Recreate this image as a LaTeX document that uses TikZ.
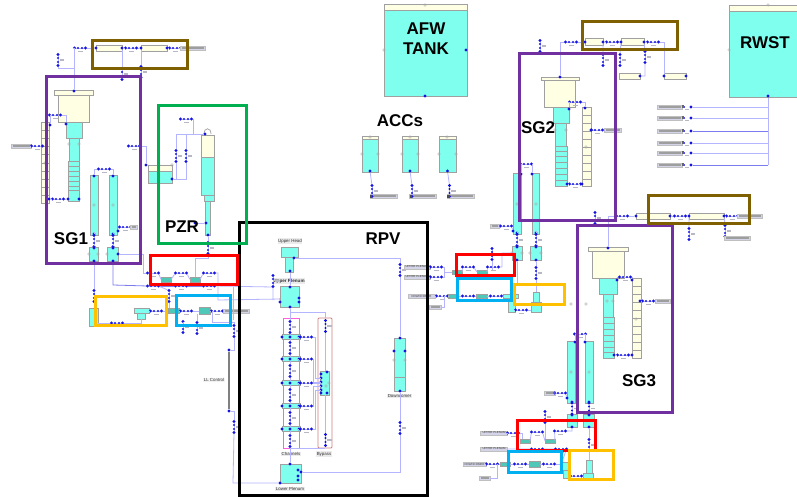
\documentclass[tikz,border=0pt]{standalone}
\usepackage{fontspec}
\setmainfont{Liberation Sans}
\definecolor{aq}{HTML}{7FFFEE}
\definecolor{crm}{HTML}{FFFFE4}
\definecolor{tl}{HTML}{4FC8B8}
\definecolor{edg}{HTML}{A0A0A0}
\definecolor{pp}{HTML}{B4B4FF}
\definecolor{ppd}{HTML}{7C7CF0}
\definecolor{bd}{HTML}{1414E0}
\definecolor{lbl}{HTML}{D4D4E8}
\definecolor{sm}{HTML}{B8B8C4}
\tikzset{
 fw/.style={draw=edg,line width=.7pt,fill=aq,inner sep=0,outer sep=0},
 fc/.style={draw=edg,line width=.7pt,fill=crm,inner sep=0,outer sep=0},
 fp/.style={draw=edg,line width=.6pt,fill=tl,inner sep=0,outer sep=0},
 fr/.style={draw=#1,line width=3pt,fill=none,inner sep=0,outer sep=0},
 fthin/.style={draw=#1,line width=.8pt,fill=none,inner sep=0,outer sep=0},
 dot/.style={circle,fill=bd,inner sep=0,minimum size=3.4pt,outer sep=0},
 pipe/.style={draw=pp,line width=.8pt},
 pipd/.style={draw=ppd,line width=.8pt},
 title/.style={font=\fontsize{17}{18}\selectfont\bfseries,align=center,inner sep=0},
 captxt/.style={font=\fontsize{4.4}{5}\selectfont,fill=black!8,inner sep=.6pt,text=black!80},
 tagt/.style={font=\fontsize{2.9}{3}\selectfont,fill=lbl,draw=black!25,line width=.2pt,inner sep=.4pt,minimum height=4.4pt,text=black!75},
 tag/.style={tagt,path picture={\fill[black!38] ([shift={(1.5pt,.6pt)}]path picture bounding box.west) rectangle ([shift={(-1.5pt,-.6pt)}]path picture bounding box.east);}},
 prt/.style={draw=black!35,line width=.3pt,fill=none},
}
\newcommand\comp[6]{\pgfmathsetmacro\cw{#5-#3}\pgfmathsetmacro\chh{#6-#4}%
 \node[#2,anchor=north west,minimum width=\cw pt,minimum height=\chh pt] (#1) at (#3,#4) {};}
\newcommand\pnt[3]{\node[dot] (#1) at (#2,#3) {};}
\newcommand\jh[3]{\node[dot] (#1L) at ({#2-5.5},#3) {};\node[dot] (#1R) at ({#2+5.5},#3) {};
 \draw[pipe] (#1L) -- (#1R);
 \fill[bd] ({#2-2},#3) circle (1.1pt) ({#2+2},#3) circle (1.1pt);
 \fill[sm] ({#2-2.5},{#3+3}) rectangle ({#2+2.5},{#3+4.4});}
\newcommand\jv[3]{\node[dot] (#1T) at (#2,{#3-5.5}) {};\node[dot] (#1B) at (#2,{#3+5.5}) {};
 \draw[pipe] (#1T) -- (#1B);
 \fill[bd] (#2,{#3-2}) circle (1.1pt) (#2,{#3+2}) circle (1.1pt);
 \fill[sm] ({#2+1.5},{#3-.7}) rectangle ({#2+6},{#3+.7});}
\begin{document}
\begin{tikzpicture}[x=1pt,y=-1pt]
\useasboundingbox (0,0) rectangle (797,497);
\fill[white] (0,0) rectangle (797,497);

% ===== tanks =====
\comp{afwt}{fc}{384}{4}{467}{11}
\comp{afw}{fw}{384}{10}{467}{96}
\pnt{afwr}{466}{50}\pnt{afwb}{425}{96}
\comp{rwstt}{fc}{729}{5}{797}{11}
\comp{rwst}{fw}{729}{11}{797}{97}
\pnt{rwstb}{768}{96}

% RWST outlets
\foreach \n/\yy/\cc in {a/107/pipe,b/118/pipe,c/131/pipd,d/143/pipe,e/153/pipe,f/165/pipd}{
 \node[tag,minimum width=25pt] (rt\n) at (669.5,\yy) {};
 \pnt{rd\n}{691}{\yy}
 \draw[\cc] (rd\n) -- (768,\yy);
 \fill[bd] (684,\yy) circle (1pt);
 \fill[black!60] (682,{\yy-1.5}) rectangle (684,{\yy+1.5});
 \fill[sm] (685,{\yy+2}) rectangle (689,{\yy+3.4});
}
\coordinate (rwstend) at (768,165);
\draw[pipe] (rwstb) -- (rwstend);

% ===== ACCs =====
\foreach \n/\xa/\xb/\xl/\xj/\xt in {a/362/378/370/372/383.5,b/402/418/410/412/423,c/439/456/447.5/449.5/460.5}{
 \comp{acct\n}{fc}{\xa}{136}{\xb}{140}
 \comp{acc\n}{fw}{\xa}{139.5}{\xb}{172}
 \pnt{accd\n}{\xl}{171}
 \node[tag,minimum width=27pt] (accl\n) at (\xt,196) {};
 \jv{\n accj}{\xj}{191}
 \draw[pipe] (accd\n) -- (\n accjT);
 \fill[black!70] ({\xl-.5},194.5) rectangle ({\xl+2},197.5);
}

% ===== SG1 =====
\comp{s1body}{fc}{58}{95}{89}{122}
\comp{s1cap}{fc}{54}{90.5}{93}{95}
\comp{s1a}{fw}{66}{122}{82}{138}
\comp{s1b}{fw}{69}{138}{79}{161}
\comp{s1c}{fw}{68}{161}{79}{201}
\foreach \yy in {166,171,176,181,186,190}{\draw[edg,line width=.25pt] (68,\yy) -- (79,\yy);}
\comp{s1lad}{fc}{41}{122}{49}{203}
\foreach \yy in {130,138,146,154,163,171,179,187,195}{\draw[edg,line width=.25pt] (41,\yy) -- (49,\yy);}
\pnt{s1top}{74}{91}\pnt{s1l1}{50}{125}\pnt{s1a1}{66}{124}\pnt{s1l2}{49}{199}\pnt{s1c1}{68}{199}\pnt{s1c2}{79}{199}
\comp{s1t1}{fw}{90}{175}{98}{235}
\comp{s1t2}{fw}{109}{175}{117}{235}
\comp{s1h1}{fw}{89}{247}{98}{261}
\comp{s1h2}{fw}{107}{247}{118}{261}
\pnt{s1t1a}{94}{176}\pnt{s1t2a}{113}{176}\pnt{s1t1b}{94}{234}\pnt{s1t2b}{113}{234}
\pnt{s1h1a}{94}{248}\pnt{s1h2a}{113}{248}\pnt{s1h2r}{118}{254}
\pnt{s1h1b}{94}{261}\pnt{s1h2b}{113}{261}\pnt{s1t2r}{118}{231}
\jh{s1j}{104}{169}
\draw[pipe] (s1t1a) |- (s1jL) (s1jR) -| (s1t2a);
\jv{s1v}{94}{241}\jv{s2v}{113}{241}
\draw[pipe] (s1t1b)--(s1vT) (s1vB)--(s1h1a) (s1t2b)--(s2vT) (s2vB)--(s1h2a);
\jh{s1k}{125}{227}\node[tag,minimum width=7pt] (s1ktag) at (134,227) {};
\draw[pipe] (s1t2r) -- (s1kL) (s1kR) -- (s1ktag);
\jh{s1m}{55}{115}
\draw[pipe] (s1l1) |- (s1mL) (s1mR) -| (s1a1);
\jh{s1n}{58}{199}
\draw[pipe] (s1l2) -- (s1nL) (s1nR) -- (s1c1);
\node[tag,minimum width=20pt] (s1lab) at (21,146) {};
\jh{s1o}{37}{146}
\draw[pipe] (s1lab) -- (s1oL);

% SG1 top feed
\comp{b1p1}{fc}{96}{45}{122}{51}
\comp{b1p2}{fc}{141}{45}{167}{51}
\jh{b1a}{80}{48}\jh{b1b}{131}{48}\jh{b1c}{175}{48}
\node[tag,minimum width=25pt] (b1tag) at (193,48) {};
\pnt{b1d}{96}{48}\pnt{b1e}{122}{48}\pnt{b1f}{141}{48}\pnt{b1g}{167}{48}
\draw[pipe] (b1aR)--(b1d) (b1e)--(b1bL) (b1bR)--(b1f) (b1g)--(b1cL) (b1cR)--(b1tag);
\draw[pipe] (s1top) |- (b1aL);
\jv{b1v}{58}{60}
\draw[pipe] (b1vB) |- (74,68);
\jv{b1w}{122}{74}\jv{b1x}{141}{72}
\draw[pipe] (b1e)--(b1wT) (b1f)--(b1xT);

% ===== PZR =====
\draw[edg,line width=.7pt] (204,134) .. controls (204,127) and (211,127) .. (211,134);
\comp{pztop}{fc}{201}{135}{214}{158}
\comp{pzb}{fw}{201}{157}{214}{195}
\comp{pzn}{fw}{204}{195}{214}{201}
\comp{pzs}{fw}{205}{201}{210}{235}
\pnt{pza}{205}{134}\pnt{pzc}{208}{235}\pnt{pzd}{206}{223}\pnt{pze}{195}{223}
\jh{pzj}{186}{119}
\draw[pipe] (pzjR) -- (193,119) -- (193,134);
\coordinate (pzl) at (176,134);\coordinate (pzm) at (186,134);
\draw[pipe] (pza) -- (pzl);
\jv{pzv}{176}{156}\jv{pzw}{186}{156}
\draw[pipe] (pzl) -- (pzvT) (pzm) -- (pzwT);
\comp{qtt}{fc}{148}{165}{172}{171}
\comp{qt}{fw}{148}{171}{172}{183}
\draw[edg,line width=.25pt] (148,171) -- (172,171);
\pnt{qta}{146}{165}\pnt{qtb}{172}{179}
\draw[pipe] (pzvB) |- (qtb);
\draw[pipe] (pzwB) |- (176,179);
\jh{qtj}{134}{146}
\draw[pipe] (qtjR) -| (qta);
\draw[pipe] (pzd) -- (pze);

% ===== Coolant loop 1, below SG1 =====
\comp{l1a}{fp}{161}{277}{171}{282}
\comp{l1b}{fp}{190}{277}{200}{282}
\comp{l1c}{fw}{134}{308}{149}{313}
\comp{l1d}{fw}{137}{313}{145}{319}
\comp{l1e}{fw}{89}{308}{98}{326}
\comp{l1f}{fp}{168}{308}{179}{313}
\comp{l1g}{fp}{199}{307}{210}{314}
\jh{u1}{153}{273}\jh{u2}{181}{273}\jh{u3}{209}{273}
\jh{d1}{153}{286}\jh{d2}{181}{286}\jh{d3}{209}{286}
\jh{o1}{156}{311}\jh{o2}{117}{323}
\jh{c1}{186}{311}\jh{c2}{217}{311}
\node[tag,minimum width=26pt] (c2tag) at (236,311) {};
\jv{v1}{208}{248}\jv{v2}{169}{296}\jv{v3}{94}{296}\jv{v4}{183}{327}\jv{v5}{197}{328}
\pnt{upl}{281}{299}\pnt{upl2}{298}{299}
\draw[pipe] (pzc) -- (v1T);
\draw[pipe] (v1B) -- (208,258) -- (195,258) -- (195,277);
\draw[pipe] (s1h2r) -- (143,254) -- (143,273) -- (u1L);
\draw[pipd] (s1h2b) -- (113,285) -- (d1L);
\draw[pipe] (s1h1b) -- (v3T);
\draw[pipe] (v3B) -- (94,308);
\draw[pipe] (u1R) -- (161,279.5) (171,279.5) -- (u2L) (u2R) -- (190,279.5) (200,279.5) -- (u3L);
\draw[pipe] (u3R) -- (218,273) -- (218,300) -- (upl);
\draw[pipe] (d3R) -- (273,287) -- (273,300);
\draw[pipd] (d1R) -- (d2L) (d2R) -- (d3L);
\draw[pipe] (d1R) -- (v2T);
\draw[pipe] (v2B) -- (169,308);
\draw[pipe] (149,311) -- (o1L) (o1R) -- (168,311) (179,311) -- (c1L) (c1R) -- (199,311) (210,311) -- (c2L) (c2R) -- (c2tag);
\draw[pipe] (98,323) -- (o2L) (o2R) -- (141,323) -- (141,319);
\draw[pipe] (183,322) -- (v4T) (197,314) -- (v5T);

% LL control
\node[captxt,fill=black!5] (llc) at (214,380) {LL Control};
\pnt{lla}{229}{350}\pnt{llb}{229}{411}
\draw[black!50,line width=1.1pt] (lla) -- (llb);
\jv{v6}{234}{331}\jv{v7}{234}{427}
\coordinate (lly) at (234,350);\coordinate (llz) at (234,411);
\draw[pipe] (lla) -- (lly) -- (v6B) (llb) -- (llz) -- (v7T);
\draw[pipe] (212,311) -- (212,322) -- (234,322) -- (v6T);
\draw[pipe] (233,287) -- (233,320);

% ===== RPV =====
\comp{uha}{fw}{281}{247}{298}{257}
\comp{uhb}{fw}{285}{257}{293}{272}
\comp{up}{fw}{280}{286}{299}{307}
\comp{dc}{fw}{394}{338}{405}{391}
\comp{lp}{fw}{280}{464}{301}{483}
\draw[edg,line width=.3pt] (394,377) -- (405,377);
\node[captxt] (uhl) at (290,241) {Upper Head};
\node[captxt,font=\fontsize{4.6}{5}\selectfont\bfseries] (upll) at (289,281) {Upper Plenum};
\node[captxt] (dcl) at (399.5,396) {Downcomer};
\node[captxt] (chl) at (291,454) {Channels};
\node[captxt] (byl) at (324,454) {Bypass};
\node[captxt] (lpl) at (290,489) {Lower Plenum};
\pnt{uhd}{294}{258}\pnt{uhb2}{290}{271}\pnt{uu}{290}{287}\pnt{upb}{290}{307}
\pnt{dct}{400}{338}\pnt{dcb}{400}{391}\pnt{lpr}{301}{472}\pnt{lpt}{290}{464}\pnt{lpl1}{280}{483}
\pnt{dcl1}{394}{351}\pnt{dcr1}{405}{351}
\pnt{lpa}{298}{476}\pnt{lpb}{298}{480}\pnt{lpc}{298}{470}
\pnt{ups1}{299}{298}\pnt{ups2}{299}{302}\pnt{upl3}{280}{302}
\draw[pipe] (uhd) -| (dct);
\draw[pipe] (dcb) |- (lpr);
\draw[pipe] (uhb2) -- (uu);
\draw[pipe] (lpl1) -- (233,483) -- (v7B);
\jv{rs1}{400}{270}\jv{rs2}{400}{428}
\jv{rs3}{273}{281}

\definecolor{chpink}{HTML}{FF60E0}
\definecolor{bypink}{HTML}{D08080}
\comp{chbox}{fthin=chpink}{283}{318}{299}{448}
\node[fthin=bypink,rounded corners=1pt,anchor=north west,minimum width=14pt,minimum height=130pt] (bybox) at (318,318) {};
\draw[pipe] (upb) -- (290,312) -- (325,312) -- (325,318);
\draw[pipe] (290,448) -- (325,448);
\foreach \n/\ya/\yy/\yb in {1/334.5/337/339.5,2/356.5/359/361.5,3/380.5/383/385.5,4/403.5/406/408.5,5/426.5/429/431.5}{
 \comp{ch\n}{fw}{282}{\ya}{300}{\yb}
 \pnt{chd\n}{290}{\yy}
 \pnt{chl\n}{282}{\yy}
 \pnt{chr\n}{299}{\yy}
 \jh{\n cj}{306}{\yy}
 \draw[pipe] (chr\n) -- (\n cjL);
}
\foreach \n/\yy in {a/327,b/348,c/371,d/395,e/418,f/441}{\jv{\n cv}{290}{\yy}}
\draw[pipe] (upb) -- (acvT) (acvB) -- (chd1) (chd1) -- (bcvT) (bcvB) -- (chd2) (chd2) -- (ccvT) (ccvB) -- (chd3) (chd3) -- (dcvT) (dcvB) -- (chd4) (chd4) -- (ecvT) (ecvB) -- (chd5) (chd5) -- (fcvT) (fcvB) -- (lpt);
\comp{byb}{fw}{320}{371}{329}{395}
\foreach \yy in {374,378,382,386,390,393}{\node[dot] at (321,\yy) {};}
\node[dot] at (327,372) {};\node[dot] at (327,393) {};
\jv{bya}{325.5}{326}\jv{byc}{325.5}{440}
\draw[pipe] (byaB) -- (byb.north -| byaB) (byb.south -| bycT) -- (bycT);
\draw[pipe] (1cjR) -| (315,378) -- (321,378);
\draw[pipe] (2cjR) -| (313,382) -- (321,382);
\draw[pipe] (3cjR) -- (321,383);
\draw[pipe] (4cjR) -| (313,386) -- (321,386);
\draw[pipe] (5cjR) -| (315,390) -- (321,390);

% RPV side tags
\node[tagt,minimum width=26pt] (ta) at (417,267) {UPPER PLENUM};
\node[tagt,minimum width=26pt] (tb) at (417,277) {UPPER PLENUM};
\node[tagt,minimum width=27pt] (tc) at (421.5,296) {DOWNCOMER};
\node[tag,minimum width=12pt] (td) at (435,307) {};
\jh{ja}{436}{267}\jh{jb}{436}{277}\jh{jc}{442}{296}
\draw[pipe] (ta)--(jaL) (tb)--(jbL) (tc)--(jcL);

% ===== SG2 =====
\comp{s2body}{fc}{544}{80}{575}{107}
\comp{s2cap}{fc}{541}{77}{579}{80}
\comp{s2a}{fw}{553}{107}{569}{123}
\comp{s2b}{fw}{555}{123}{566}{146}
\comp{s2c}{fw}{555}{146}{567}{186}
\foreach \yy in {151,156,162,168,174,180}{\draw[edg,line width=.25pt] (555,\yy) -- (567,\yy);}
\comp{s2lad}{fc}{582}{107}{591}{186}
\foreach \yy in {115,123,131,139,147,155,163,171,179}{\draw[edg,line width=.25pt] (582,\yy) -- (591,\yy);}
\pnt{s2top}{560}{77}\pnt{s2a1}{569}{109}\pnt{s2l1}{585}{108}\pnt{s2c1}{567}{184}\pnt{s2l2}{582}{184}\pnt{s2r}{591}{130}
\jh{s2m}{575}{102}\jh{s2n}{575}{184}\jh{s2o}{597}{130}
\node[tag,minimum width=17pt] (s2tag) at (613,130) {};
\draw[pipe] (s2a1) |- (s2mL) (s2mR) -| (s2l1) (s2c1)--(s2nL) (s2nR)--(s2l2) (s2r)--(s2oL) (s2oR)--(s2tag);
\comp{s2t1}{fw}{513}{173}{521}{234}
\comp{s2t2}{fw}{532}{173}{539}{234}
\comp{s2h1}{fw}{512}{246}{522}{260}
\comp{s2h2}{fw}{530}{246}{541}{260}
\pnt{s2t1a}{521}{174}\pnt{s2t2a}{532}{174}\pnt{s2t1b}{517}{233}\pnt{s2t2b}{536}{233}\pnt{s2t1c}{513}{231}
\pnt{s2h1a}{517}{247}\pnt{s2h2a}{536}{247}\pnt{s2h2b}{536}{260}\pnt{s2h1b}{517}{260}
\jh{s2j}{526}{164}
\draw[pipe] (s2t1a) |- (s2jL) (s2jR) -| (s2t2a);
\jv{s2u}{517}{240}\jv{s2w}{536}{240}
\draw[pipe] (s2t1b)--(s2uT) (s2uB)--(s2h1a) (s2t2b)--(s2wT) (s2wB)--(s2h2a);
\node[tag,minimum width=9pt] (s2lb) at (495,226) {};
\jh{s2k}{506}{226}
\draw[pipe] (s2lb)--(s2kL) (s2kR)--(s2t1c);

% SG2 feed
\comp{b2p1}{fc}{585}{38}{603}{45}
\comp{b2p2}{fc}{621}{38}{644}{45}
\comp{b2p3}{fc}{664}{73}{686}{79}
\comp{b2p4}{fc}{619}{73}{640}{79}
\jh{b2a}{571}{42}\jh{b2b}{612}{42}\jh{b2c}{653}{42}
\pnt{b2d}{585}{42}\pnt{b2e}{603}{42}\pnt{b2f}{621}{42}\pnt{b2g}{644}{42}
\pnt{b2h}{664}{76}\pnt{b2i}{686}{76}\pnt{b2j}{640}{76}
\draw[pipe] (b2aR)--(b2d) (b2e)--(b2bL) (b2bR)--(b2f) (b2g)--(b2cL);
\draw[pipe] (s2top) |- (b2aL);
\draw[pipe] (b2cR) -| (b2h);
\jv{b2v}{603}{60}\jv{b2w}{620}{60}\jv{b2x}{645}{57}\jv{b2y}{540}{46}
\draw[pipe] (b2e)--(b2vT) (b2f)--(b2wT) (b2g)--(b2xT) (b2xB) |- (b2j);

% ===== Loop 2 =====
\comp{m1}{fp}{452}{270}{462}{274}
\comp{m2}{fp}{477}{270}{487}{274}
\comp{m3}{fp}{448}{294}{457}{298}
\comp{m4}{fp}{476}{294}{487}{298}
\comp{m5}{fw}{503}{294}{518}{298}
\comp{m6}{fw}{508}{298}{515}{312}
\comp{m7}{fw}{533}{292}{539}{302}
\comp{m8}{fw}{531}{302}{541}{312}
\jh{n1}{468}{267}\jh{n2}{493}{267}\jh{n3}{468}{296}\jh{n4}{496}{296}\jh{n5}{521}{310}
\jv{n6}{492}{254}\jv{n7}{536}{273}
\draw[pipe] (462,272) -- (n1L) (n1R) -- (477,272) (487,272) -- (n2L) (n2R) -- (502,267) -- (502,253) -- (516,253);
\draw[pipe] (457,296)--(n3L) (n3R)--(476,296) (487,296)--(n4L) (n4R)--(503,296);
\draw[pipe] (n6B) -- (492,270);
\draw[pipe] (s2h2b) -- (n7T) (n7B) -- (536,292);
\draw[pipe] (s2h1b) -- (517,284);
\draw[pipe] (515,310) -- (n5L) (n5R) -- (531,310);
\draw[pipe] (jaR) -- (444,267) -- (444,272) -- (452,272) (jbR) -- (444,277) -- (444,272);
\draw[pipe] (jcR) -- (448,296);
\draw[pipe] (td) -- (444,307) -- (444,296);

% ===== SG3 =====
\comp{s3body}{fc}{592}{251}{624}{278}
\comp{s3cap}{fc}{588}{247}{628}{251}
\comp{s3a}{fw}{599}{278}{617}{294}
\comp{s3b}{fw}{603}{294}{613}{317}
\comp{s3c}{fw}{603}{317}{614}{358}
\foreach \yy in {323,329,335,341,347,352}{\draw[edg,line width=.25pt] (603,\yy) -- (614,\yy);}
\comp{s3lad}{fc}{632}{278}{641}{358}
\foreach \yy in {286,294,302,310,318,326,334,342,350}{\draw[edg,line width=.25pt] (632,\yy) -- (641,\yy);}
\pnt{s3top}{608}{248}\pnt{s3a1}{617}{280}\pnt{s3l1}{632}{280}\pnt{s3c1}{614}{355}\pnt{s3l2}{632}{355}\pnt{s3r}{640}{301}
\jh{s3m}{625}{277}\jh{s3n}{623}{355}\jh{s3o}{648}{301}
\node[tag,minimum width=15pt] (s3tag) at (662.5,301) {};
\draw[pipe] (s3a1) |- (s3mL) (s3mR) -| (s3l1) (s3c1)--(s3nL) (s3nR)--(s3l2) (s3r)--(s3oL) (s3oR)--(s3tag);
\comp{s3t1}{fw}{567}{341}{575}{403}
\comp{s3t2}{fw}{585}{341}{593}{403}
\comp{s3h1}{fw}{567}{414}{577}{427}
\comp{s3h2}{fw}{583}{414}{594}{427}
\pnt{s3t1a}{575}{342}\pnt{s3t2a}{585}{342}\pnt{s3t1b}{572}{402}\pnt{s3t2b}{589}{402}\pnt{s3t1c}{567}{398}
\pnt{s3h1a}{572}{415}\pnt{s3h2a}{589}{415}\pnt{s3h2b}{589}{427}\pnt{s3h1b}{572}{427}
\jh{s3j}{580}{334}
\draw[pipe] (s3t1a) |- (s3jL) (s3jR) -| (s3t2a);
\jv{s3u}{572}{408.5}\jv{s3w}{589}{408.5}
\draw[pipe] (s3t1b)--(s3uT) (s3uB)--(s3h1a) (s3t2b)--(s3wT) (s3wB)--(s3h2a);
\node[tag,minimum width=11pt] (s3lb) at (549.5,393) {};
\jh{s3k}{560}{393}
\draw[pipe] (s3lb)--(s3kL) (s3kR)--(s3t1c);

% SG3 feed
\comp{b3p1}{fc}{636}{213}{670}{219}
\comp{b3p2}{fc}{689}{213}{724}{219}
\jh{b3a}{622}{216}\jh{b3b}{680}{216}\jh{b3c}{732}{216}
\node[tag,minimum width=25pt] (b3tag) at (750,216) {};
\pnt{b3d}{636}{216}\pnt{b3e}{670}{216}\pnt{b3f}{689}{216}\pnt{b3g}{724}{216}
\draw[pipe] (b3aR)--(b3d) (b3e)--(b3bL) (b3bR)--(b3f) (b3g)--(b3cL) (b3cR)--(b3tag);
\draw[pipe] (s3top) |- (b3aL);
\jv{b3v}{595}{218}\jv{b3w}{689}{234}\jv{b3x}{725}{231}
\node[tag,minimum width=26pt] (b3low) at (737,238) {};
\draw[pipe] (b3f)--(b3wT) (b3g)--(b3xT);

% ===== Loop 3 =====
\comp{q1}{fp}{520}{439}{530}{443}
\comp{q2}{fp}{545}{439}{555}{443}
\comp{q3}{fp}{500}{462}{510}{466}
\comp{q4}{fp}{529}{461}{540}{467}
\comp{q5}{fw}{562}{462}{568}{470}
\comp{q6}{fw}{563}{470}{569}{478}
\comp{q7}{fw}{586}{460}{592}{473}
\comp{q8}{fw}{583}{473}{593}{478}
\node[tagt,minimum width=27pt] (ql1) at (494,433) {UPPER PLENUM};
\node[tagt,minimum width=27pt] (ql2) at (494,449) {UPPER PLENUM};
\node[tagt,minimum width=23pt] (ql3) at (474.5,464) {DOWNCOMER};
\node[tag,minimum width=11pt] (ql4) at (484.5,478) {};
\jh{r1}{537}{432}\jh{r2}{560}{431}\jh{r3}{513}{433}\jh{r4}{537}{449}\jh{r5}{561}{449}
\jh{r6}{492}{464}\jh{r7}{520}{464}\jh{r8}{549}{464}\jh{r9}{576}{476}
\jv{r10}{545}{417}\jv{r11}{589}{445}
\draw[pipe] (ql1)--(r3L) (r3R)--(522,433)--(522,439);
\draw[pipe] (530,441)--(r1L) (r1R)--(545,441)
 (555,441)--(r2L) (r2R)--(572,431)--(s3h1b);
\draw[pipe] (r10B)--(545,439);
\draw[pipe] (ql2)--(r4L) (r4R)--(r5L) (r5R)--(562,462);
\draw[pipe] (ql3)--(r6L) (r6R)--(500,464) (510,464)--(r7L) (r7R)--(529,464) (540,464)--(r8L) (r8R)--(562,464);
\draw[pipe] (ql4)--(497,478)--(497,464);
\draw[pipe] (s3h2b)--(r11T) (r11B)--(589,460);
\draw[pipe] (569,476)--(r9L) (r9R)--(583,476);

% grey ports on the components
\foreach \px/\py in {384/50,425/5,729/50,768/5,362/154,378/154,370/137,402/154,418/154,410/137,439/154,456/154,447/137,
 69/144,79/144,45/163,94/205,113/205,89/254,98/254,107/254,159/165,172/165,517/204,536/204,512/253,522/253,530/253,541/253,
 555/130,566/130,586/147,571/304,586/304,607/301,613/301,636/319,571/372,589/372,567/420,594/420,
 394/360,405/360,326/386,329/383}{
 \draw[prt] (\px,\py) circle (1.3pt);
}

% ===== coloured frames =====
\definecolor{fpur}{RGB}{112,48,160}
\definecolor{fgrn}{RGB}{0,176,80}
\definecolor{fbrn}{RGB}{127,96,0}
\definecolor{fblu}{RGB}{0,176,240}
\definecolor{fora}{RGB}{255,192,0}
\comp{f1}{fr=black}{239}{222.5}{427}{495.5}
\comp{f2}{fr=fpur}{46}{77}{140}{263}
\comp{f3}{fr=fpur}{519}{54}{615}{220}
\comp{f4}{fr=fpur}{577}{225}{672}{412}
\comp{f5}{fr=fgrn}{158}{106}{246}{243}
\comp{f6}{fr=fbrn}{92.5}{41}{187}{69}
\comp{f7}{fr=fbrn}{582}{22}{677}{50}
\comp{f8}{fr=fbrn}{648}{195}{749}{223}
\comp{f9}{fr=red}{150.5}{255.5}{237}{284}
\comp{f10}{fr=red}{456}{254}{514}{275}
\comp{f11}{fr=red}{517}{420}{595}{450}
\comp{f12}{fr=fblu}{176}{295}{230}{325}
\comp{f13}{fr=fblu}{457}{278}{511}{300}
\comp{f14}{fr=fblu}{508}{451}{561}{472}
\comp{f15}{fr=fora}{95.5}{296}{166}{325.5}
\comp{f16}{fr=fora}{514}{284}{564}{304}
\comp{f17}{fr=fora}{569}{450}{613}{479}

% ===== titles =====
\node[title] (tafw) at (426,38.5) {AFW\\[2pt]TANK};
\node[title] (trw) at (765,43) {RWST};
\node[title] (tacc) at (400,121) {ACCs};
\node[title] (tsg1) at (71,239) {SG1};
\node[title] (tsg2) at (538,128) {SG2};
\node[title] (tsg3) at (639,381) {SG3};
\node[title] (tpz) at (182,227) {PZR};
\node[title] (trp) at (383,239) {RPV};
\end{tikzpicture}
\end{document}
